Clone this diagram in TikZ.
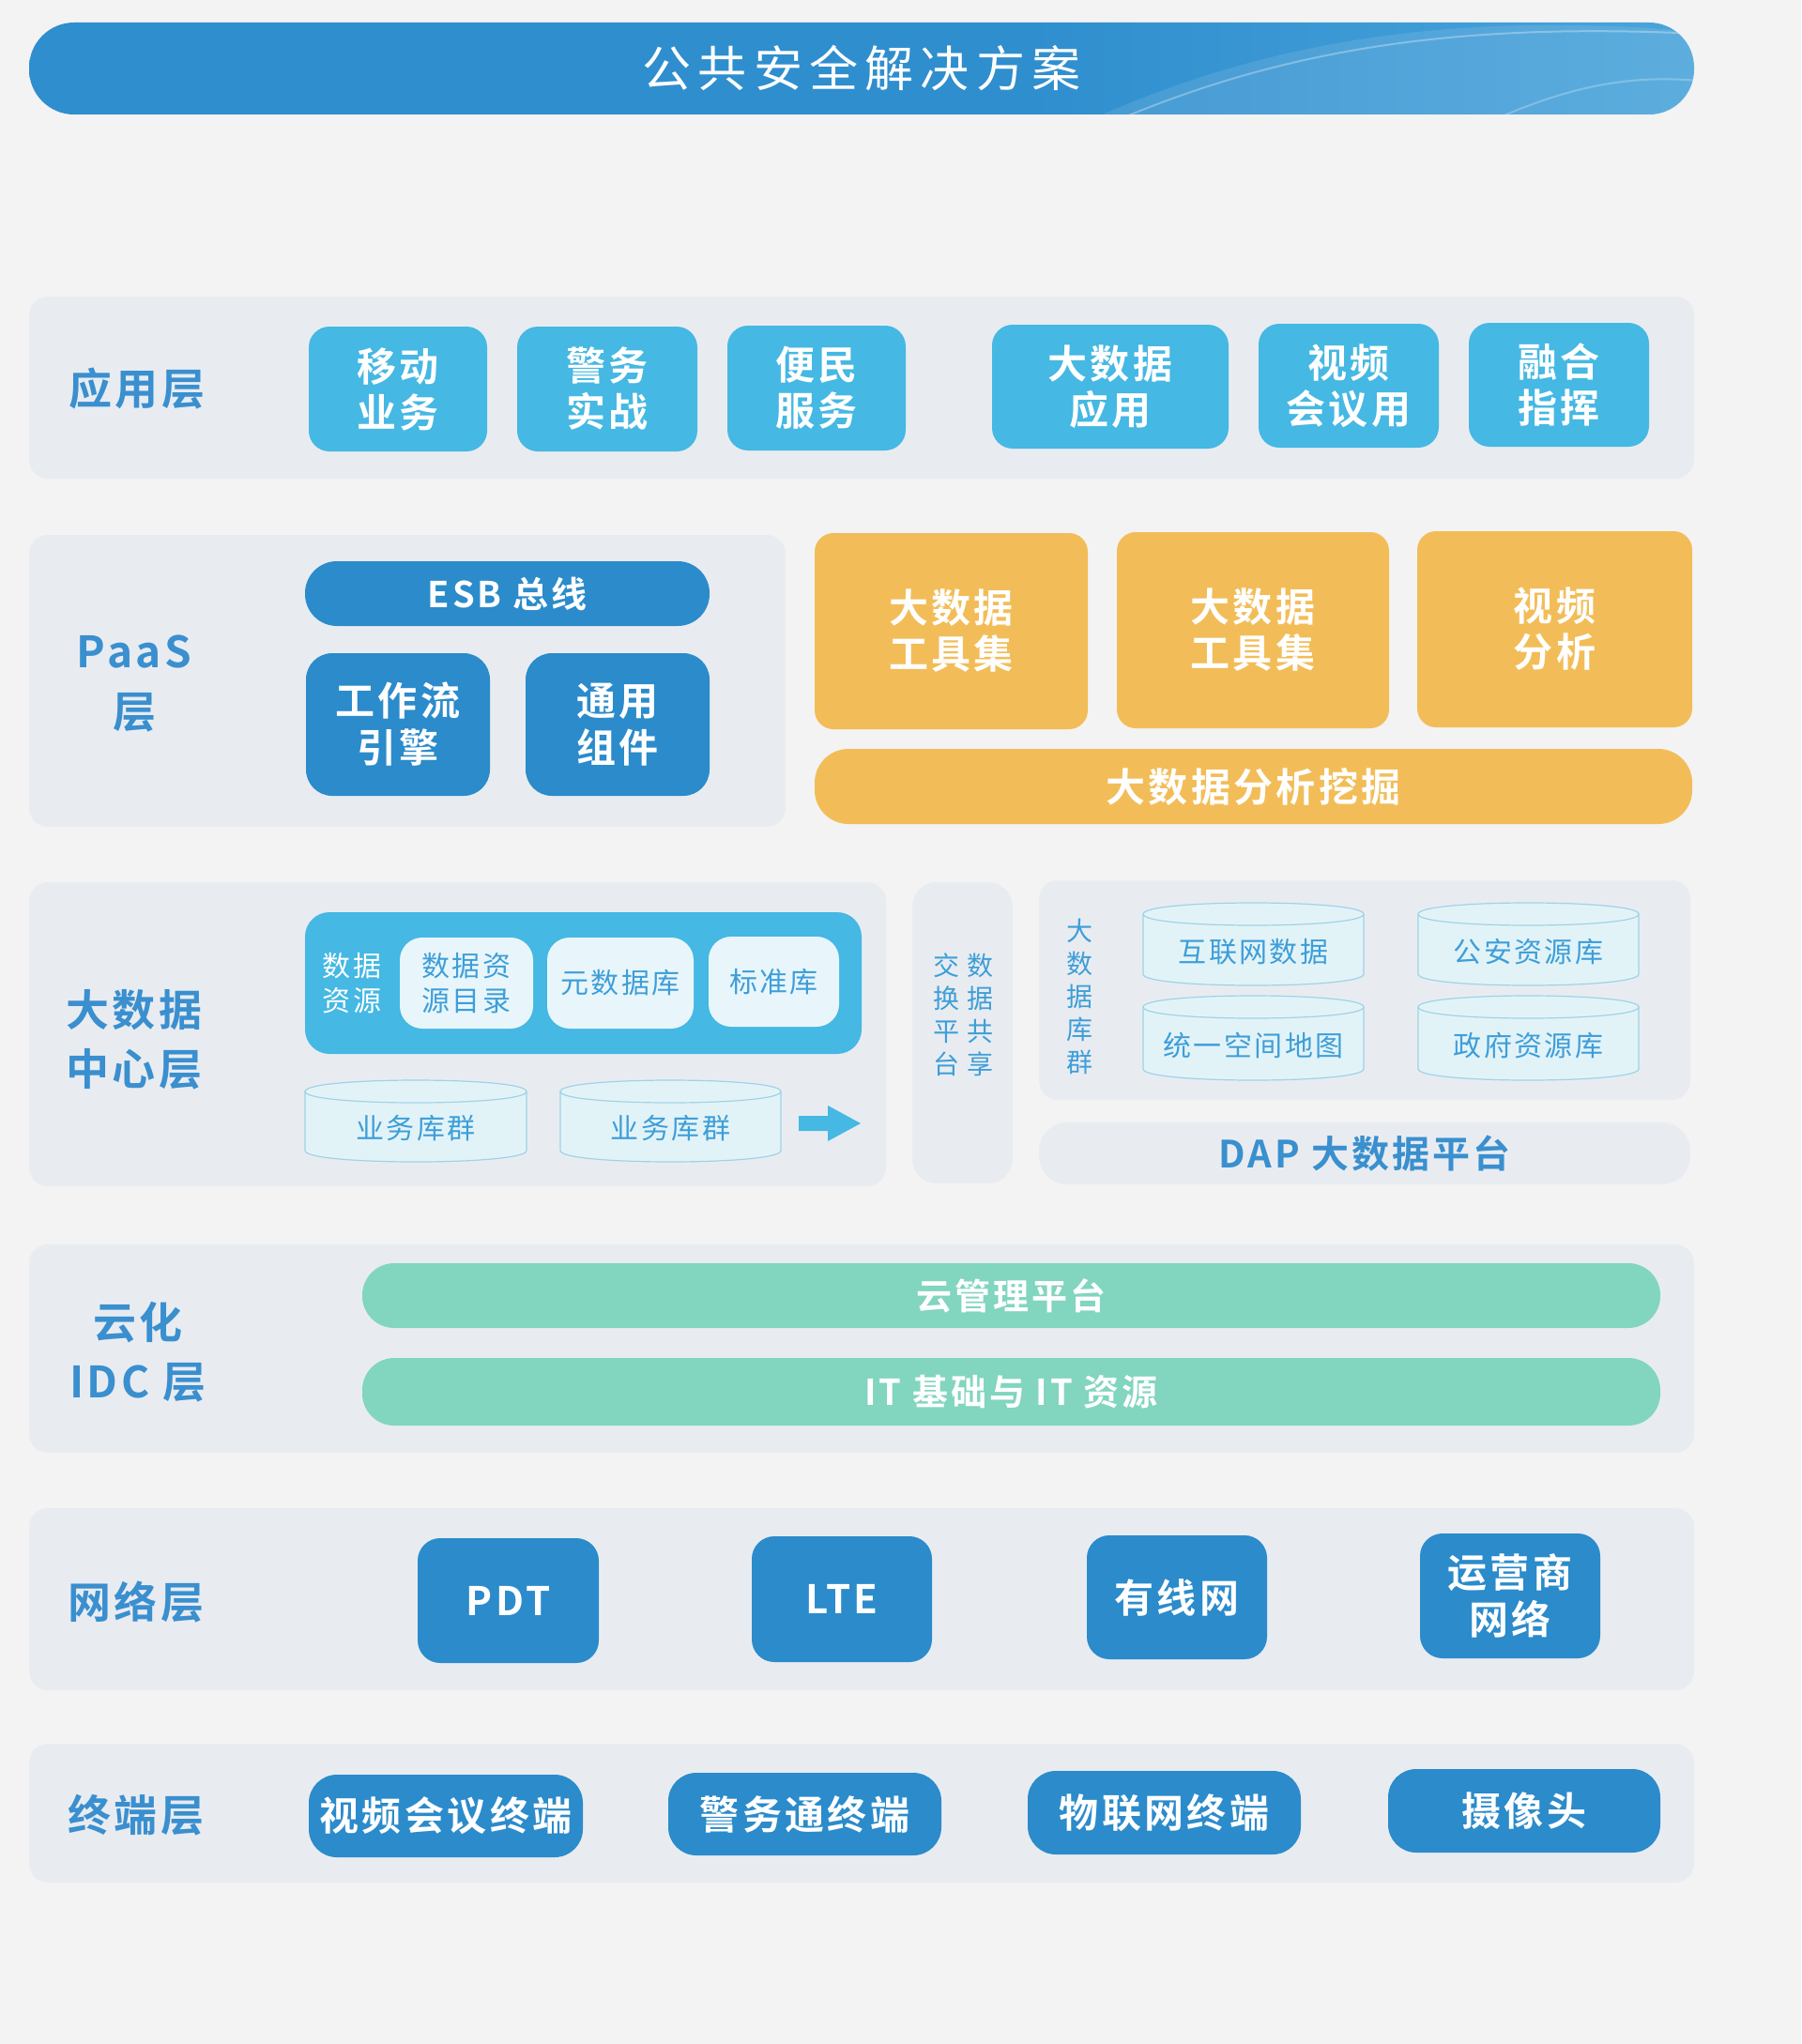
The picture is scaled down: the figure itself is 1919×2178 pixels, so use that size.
\documentclass[tikz,border=0pt]{standalone}
\usepackage{fontspec}
\setmainfont{Noto Sans CJK SC}
\newfontfamily\fr{Noto Sans CJK SC}
\newfontfamily\fb{Noto Sans CJK SC Bold}
\newfontfamily\frs[LetterSpace=8]{Noto Sans CJK SC}
\newfontfamily\fbs[LetterSpace=8]{Noto Sans CJK SC Bold}
\newfontfamily\ftitle[LetterSpace=14]{Noto Sans CJK SC}
\definecolor{bgc}{HTML}{F3F3F3}
\definecolor{panelc}{HTML}{E8ECF1}
\definecolor{lbluec}{HTML}{45B8E3}
\definecolor{dbluec}{HTML}{2B8BCB}
\definecolor{orangec}{HTML}{F2BD58}
\definecolor{greenc}{HTML}{82D5BF}
\definecolor{lblc}{HTML}{3A8FCF}
\definecolor{innerc}{HTML}{E8F6FB}
\definecolor{intextc}{HTML}{3E9ED8}
\definecolor{cylfc}{HTML}{E2F3F8}
\definecolor{cyllc}{HTML}{9FD3E6}
\definecolor{tb1}{HTML}{2F8ECE}
\definecolor{tb2}{HTML}{4FA8DD}
\definecolor{tb3}{HTML}{7CC4EA}
\pgfdeclarehorizontalshading{titleshade}{100bp}{color(0bp)=(tb1); color(55bp)=(tb1); color(78bp)=(tb2); color(100bp)=(tb3)}
\newcommand\rbx[7]{\node[#1, inner sep=0pt, minimum width={(#5-#3)*0.5pt}, minimum height={(#6-#4)*0.5pt}] (#2) at ({(#3+#5)/2},{(#4+#6)/2}) {#7};}
\newcommand\cyl[6]{%
  \filldraw[cylbody] (#2,#3+12) -- (#2,#5-12) .. controls (#2,#5+4) and (#4,#5+4) .. (#4,#5-12) -- (#4,#3+12) .. controls (#4,#3-4) and (#2,#3-4) .. cycle;
  \draw[cylbody, fill=none] (#2,#3+12) .. controls (#2,#3+28) and (#4,#3+28) .. (#4,#3+12);
  \node[cyltext] (#1) at ({(#2+#4)/2},{(#3+#5)/2+8}) {#6};}
\begin{document}
\begin{tikzpicture}[x=0.5pt,y=-0.5pt,
  panel/.style={fill=panelc, rounded corners=10pt},
  appb/.style={fill=lbluec, rounded corners=11pt, text=white, align=center, font=\fbs\fontsize{21}{24.5}\selectfont},
  dbb/.style={fill=dbluec, rounded corners=12pt, text=white, align=center, font=\fbs\fontsize{21}{25}\selectfont},
  orb/.style={fill=orangec, rounded corners=10pt, text=white, align=center, font=\fbs\fontsize{21}{24.5}\selectfont},
  grb/.style={fill=greenc, rounded corners=17pt, text=white, align=center, font=\fbs\fontsize{19}{22}\selectfont},
  lbl/.style={text=lblc, align=center, font=\fbs\fontsize{23}{31.5}\selectfont},
  inbox/.style={fill=innerc, rounded corners=12pt, text=intextc, align=center, font=\frs\fontsize{15}{18.5}\selectfont},
  cylbody/.style={fill=cylfc, draw=cyllc, line width=0.6pt},
  cyltext/.style={text=intextc, font=\frs\fontsize{15}{18}\selectfont},
  vtext/.style={text=intextc, align=center, font=\fr\fontsize{14}{17.5}\selectfont}
]
\useasboundingbox (0,0) rectangle (1919,2178);
\fill[bgc] (0,0) rectangle (1919,2178);

% ---------- title ----------
\path[shading=titleshade, rounded corners=24pt] (31,24) rectangle (1805,122);
\begin{scope}
  \clip[rounded corners=24pt] (31,24) rectangle (1805,122);
  \fill[white, opacity=0.10] (1170,124) .. controls (1360,40) and (1560,12) .. (1810,34) -- (1810,124) -- cycle;
  \draw[white, opacity=0.30, line width=1pt] (1200,124) .. controls (1380,50) and (1560,24) .. (1810,36);
  \draw[white, opacity=0.25, line width=1pt] (1600,124) .. controls (1680,90) and (1740,80) .. (1810,86);
\end{scope}
\node[text=white, font=\ftitle\fontsize{26}{30}\selectfont] (title) at (918,73) {公共安全解决方案};

% ---------- 应用层 ----------
\rbx{panel}{p1}{31}{316}{1805}{510}{}
\node[lbl] (l1) at (146,414) {应用层};
\rbx{appb}{a1}{329}{348}{519}{481}{移动\\业务}
\rbx{appb}{a2}{551}{348}{743}{481}{警务\\实战}
\rbx{appb}{a3}{775}{347}{965}{480}{便民\\服务}
\rbx{appb}{a4}{1057}{346}{1309}{478}{大数据\\应用}
\rbx{appb}{a5}{1341}{345}{1533}{477}{视频\\会议用}
\rbx{appb}{a6}{1565}{344}{1757}{476}{融合\\指挥}

% ---------- PaaS 层 ----------
\rbx{panel}{p2}{31}{570}{837}{881}{}
\node[lbl, font=\fbs\fontsize{23}{32}\selectfont] (l2) at (143,728) {PaaS\\层};
\rbx{dbb, rounded corners=17pt, font=\fbs\fontsize{19}{22}\selectfont}{esb}{325}{598}{756}{667}{ESB 总线}
\rbx{dbb, rounded corners=14pt}{wf}{326}{696}{522}{848}{工作流\\引擎}
\rbx{dbb, rounded corners=14pt}{gc}{560}{696}{756}{848}{通用\\组件}
\rbx{orb}{o1}{868}{568}{1159}{777}{大数据\\工具集}
\rbx{orb}{o2}{1190}{567}{1480}{776}{大数据\\工具集}
\rbx{orb}{o3}{1510}{566}{1803}{775}{视频\\分析}
\rbx{orb, rounded corners=18pt}{o4}{868}{798}{1803}{878}{大数据分析挖掘}

% ---------- 大数据中心层 ----------
\rbx{panel}{p3}{31}{940}{944}{1264}{}
\node[lbl] (l3) at (143,1108) {大数据\\中心层};
\rbx{fill=lbluec, rounded corners=13pt}{dcc}{325}{972}{918}{1123}{}
\node[text=white, align=center, font=\frs\fontsize{15}{18.5}\selectfont] (dsrc) at (375,1048) {数据\\资源};
\rbx{inbox}{dir}{426}{999}{568}{1096}{数据资\\源目录}
\rbx{inbox}{meta}{583}{999}{739}{1096}{元数据库}
\rbx{inbox}{stdl}{755}{998}{894}{1094}{标准库}
\cyl{yw1}{325}{1151}{561}{1238}{业务库群}
\cyl{yw2}{597}{1151}{832}{1238}{业务库群}
\coordinate (arrS) at (851,1197);
\fill[lbluec] (arrS) ++(0,-8) -- ++(31,0) -- ++(0,-11) -- ++(35,19) -- ++(-35,19) -- ++(0,-11) -- ++(-31,0) -- cycle;

% 数据共享交换平台
\rbx{panel, rounded corners=13pt}{xch}{972}{940}{1079}{1261}{}
\node[vtext] (xch1) at (1044,1081) {数\\据\\共\\享};
\node[vtext] (xch2) at (1008,1081) {交\\换\\平\\台};

% 大数据库群
\rbx{panel}{p4}{1107}{938}{1801}{1172}{}
\node[vtext] (dbg) at (1150,1062) {大\\数\\据\\库\\群};
\cyl{c1}{1218}{962}{1453}{1050}{互联网数据}
\cyl{c2}{1511}{962}{1746}{1050}{公安资源库}
\cyl{c3}{1218}{1061}{1453}{1151}{统一空间地图}
\cyl{c4}{1511}{1061}{1746}{1151}{政府资源库}
\rbx{panel, rounded corners=15pt, text=lblc, font=\fbs\fontsize{20}{24}\selectfont}{dap}{1107}{1196}{1801}{1262}{DAP 大数据平台}

% ---------- 云化 IDC 层 ----------
\rbx{panel}{p5}{31}{1326}{1805}{1548}{}
\node[lbl] (l5) at (147,1441) {云化\\IDC 层};
\rbx{grb}{g1}{386}{1346}{1769}{1415}{云管理平台}
\rbx{grb}{g2}{386}{1447}{1769}{1519}{IT 基础与 IT 资源}

% ---------- 网络层 ----------
\rbx{panel}{p6}{31}{1607}{1805}{1801}{}
\node[lbl] (l6) at (145,1707) {网络层};
\rbx{dbb}{n1}{445}{1639}{638}{1772}{PDT}
\rbx{dbb}{n2}{801}{1637}{993}{1771}{LTE}
\rbx{dbb}{n3}{1158}{1636}{1350}{1768}{有线网}
\rbx{dbb}{n4}{1513}{1634}{1705}{1767}{运营商\\网络}

% ---------- 终端层 ----------
\rbx{panel}{p7}{31}{1858}{1805}{2006}{}
\node[lbl] (l7) at (145,1934) {终端层};
\rbx{dbb, rounded corners=15pt}{t1}{329}{1891}{621}{1979}{视频会议终端}
\rbx{dbb, rounded corners=15pt}{t2}{712}{1889}{1003}{1977}{警务通终端}
\rbx{dbb, rounded corners=15pt}{t3}{1095}{1887}{1386}{1976}{物联网终端}
\rbx{dbb, rounded corners=15pt}{t4}{1479}{1885}{1769}{1974}{摄像头}
\end{tikzpicture}
\end{document}
